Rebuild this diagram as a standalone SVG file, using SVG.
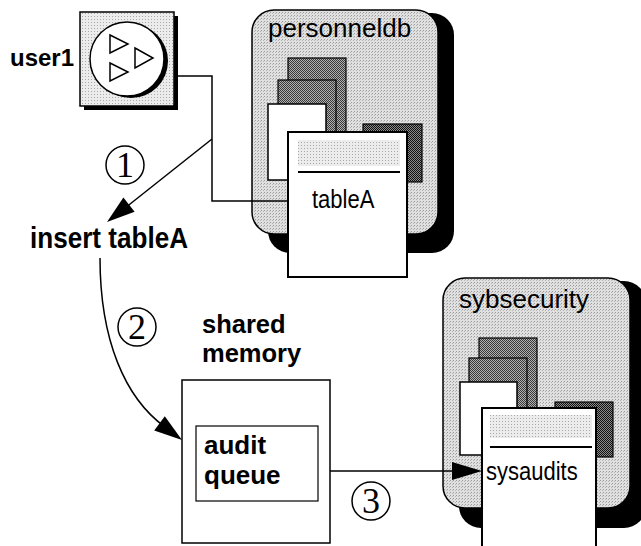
<svg xmlns="http://www.w3.org/2000/svg" width="641" height="546" viewBox="0 0 641 546">
  <defs>
    <style>
      .lbl { font-family: "Liberation Sans", Arial, sans-serif; font-weight: bold; fill: #000; }
      .db { font-family: "Liberation Sans", Arial, sans-serif; fill: #000; }
      .num { font-family: "Liberation Serif", "Times New Roman", serif; fill: #000; text-anchor: middle; }
      .ring { fill: none; stroke: #000; stroke-width: 1.5; }
      .wire { fill: none; stroke: #000; stroke-width: 1.5; }
      .head { fill: #000; }
      .shadow { fill: #000; }
      .cont { fill: url(#stipple); stroke: #000; stroke-width: 1.5; }
      .back { fill: url(#stippleDark); stroke: #000; stroke-width: 1.2; }
      .dark { fill: url(#stippleDarker); stroke: #000; stroke-width: 1.2; }
      .paper { fill: #fff; stroke: #000; stroke-width: 1.5; }
      .doc { fill: #fff; stroke: #000; stroke-width: 2; }
      .band { fill: url(#stippleLight); }
    </style>
    <pattern id="stipple" width="3" height="3" patternUnits="userSpaceOnUse">
      <rect width="3" height="3" fill="#e0e0e0"/>
      <rect x="0" y="0" width="1" height="1" fill="#9a9a9a"/>
      <rect x="2" y="1" width="1" height="1" fill="#b5b5b5"/>
    </pattern>
    <pattern id="stippleLight" width="3" height="3" patternUnits="userSpaceOnUse">
      <rect width="3" height="3" fill="#ececec"/>
      <rect x="1" y="1" width="1" height="1" fill="#a8a8a8"/>
    </pattern>
    <pattern id="stippleDark" width="2" height="2" patternUnits="userSpaceOnUse">
      <rect width="2" height="2" fill="#b0b0b0"/>
      <rect x="0" y="0" width="1" height="1" fill="#3a3a3a"/>
      <rect x="1" y="1" width="1" height="1" fill="#3a3a3a"/>
    </pattern>
    <pattern id="stippleDarker" width="2" height="2" patternUnits="userSpaceOnUse">
      <rect width="2" height="2" fill="#8a8a8a"/>
      <rect x="0" y="0" width="1" height="1" fill="#111"/>
      <rect x="1" y="1" width="1" height="1" fill="#111"/>
    </pattern>
  </defs>

  <!-- personneldb database -->
  <g id="personneldb">
    <rect class="shadow" x="268" y="13" width="186" height="240" rx="22"/>
    <rect class="cont" x="252" y="10" width="186" height="224" rx="22"/>
    <text class="db" x="268" y="37" font-size="26">personneldb</text>
    <rect class="back" x="288" y="58" width="58" height="110"/>
    <rect class="back" x="278" y="80" width="58" height="95"/>
    <rect class="paper" x="268" y="104" width="58" height="76"/>
    <rect class="dark" x="363" y="124" width="59" height="58"/>
  </g>

  <!-- sybsecurity database -->
  <g id="sybsecurity">
    <rect class="shadow" x="459" y="281" width="187" height="247" rx="22"/>
    <rect class="cont" x="443" y="278" width="187" height="230" rx="22"/>
    <text class="db" x="459" y="308" font-size="26">sybsecurity</text>
    <rect class="back" x="479" y="338" width="58" height="110"/>
    <rect class="back" x="469" y="358" width="58" height="95"/>
    <rect class="paper" x="460" y="382" width="57" height="73"/>
    <rect class="dark" x="555" y="402" width="58" height="55"/>
  </g>

  <!-- user1 client -->
  <g id="user1">
    <rect class="shadow" x="84" y="16" width="94" height="94"/>
    <rect x="80" y="12" width="94" height="94" fill="url(#stippleLight)" stroke="#000" stroke-width="1.5"/>
    <circle cx="131" cy="61" r="37" fill="#000"/>
    <circle cx="127" cy="59" r="37" fill="#fff" stroke="#000" stroke-width="1.5"/>
    <path d="M110,35 L128,44 L110,53 z M135,48 L153,58 L135,68 z M110,63 L128,72 L110,81 z" fill="none" stroke="#000" stroke-width="1.5"/>
    <text class="lbl" x="10" y="66" font-size="24">user1</text>
  </g>

  <!-- shared memory with audit queue -->
  <g id="shared-memory">
    <text class="lbl" font-size="25.5"><tspan x="202" y="333">shared</tspan><tspan x="202" y="362">memory</tspan></text>
    <rect x="182" y="380" width="148" height="163" fill="#fff" stroke="#000" stroke-width="1.5"/>
    <rect x="196" y="426" width="122" height="75" fill="#fff" stroke="#000" stroke-width="1.2"/>
    <text class="lbl" font-size="26"><tspan x="204" y="454">audit</tspan><tspan x="204" y="484">queue</tspan></text>
  </g>

  <!-- connectors -->
  <g id="connectors">
    <polyline class="wire" points="178,76 212,76 212,201 288,201" stroke-width="2.2"/>
    <path class="wire" d="M212,139 L120,212"/>
    <path class="wire" d="M100,258 C100,340 125,398 165,427"/>
    <path class="wire" d="M330,471 L455,471"/>
    <path class="head" d="M107,222 L123.4,197.6 L134.6,211.8 z"/>
    <path class="head" d="M182,440 L154.2,430.6 L164.8,416.2 z"/>
    <path class="head" d="M482,471 L452,462 L452,480 z"/>
  </g>

  <!-- tableA document -->
  <g id="tableA">
    <rect class="doc" x="288" y="132" width="119" height="145"/>
    <rect class="band" x="298" y="140" width="102" height="26"/>
    <line x1="298" y1="172" x2="400" y2="172" stroke="#000" stroke-width="2"/>
    <text class="db" transform="translate(312,208) scale(0.88,1)" font-size="25">tableA</text>
  </g>

  <!-- sysaudits document -->
  <g id="sysaudits">
    <rect class="doc" x="482" y="408" width="114" height="150"/>
    <rect class="band" x="490" y="415" width="102" height="23"/>
    <line x1="490" y1="447" x2="592" y2="447" stroke="#000" stroke-width="2"/>
    <text class="db" transform="translate(486,480) scale(0.88,1)" font-size="25">sysaudits</text>
  </g>

  <!-- step labels -->
  <g id="step1">
    <circle class="ring" cx="125" cy="165" r="19"/>
    <text class="num" x="125" y="177" font-size="36">1</text>
  </g>
  <g id="insert">
    <text class="lbl" transform="translate(30,248) scale(0.9,1)" font-size="29">insert tableA</text>
  </g>
  <g id="step2">
    <circle class="ring" cx="137" cy="327" r="19"/>
    <text class="num" x="137" y="339" font-size="36">2</text>
  </g>
  <g id="step3">
    <circle class="ring" cx="371" cy="501" r="19"/>
    <text class="num" x="371" y="513" font-size="36">3</text>
  </g>
</svg>
